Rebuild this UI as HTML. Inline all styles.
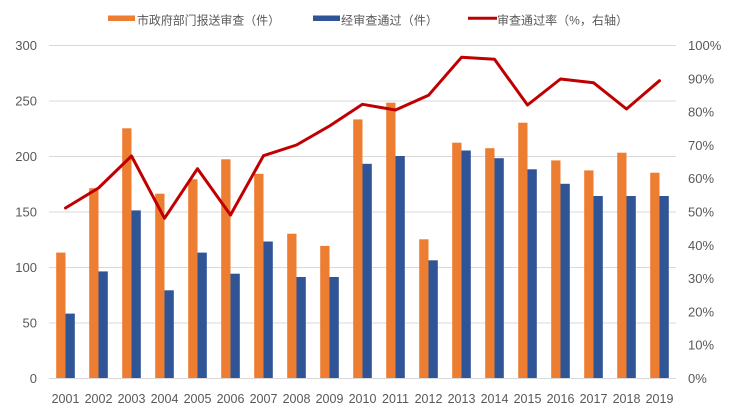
<!DOCTYPE html>
<html>
<head>
<meta charset="utf-8">
<style>
html,body{margin:0;padding:0;background:#fff;}
svg{display:block;}
text{font-family:"Liberation Sans","Noto Sans CJK SC",sans-serif;fill:#595959;}
</style>
</head>
<body>
<svg width="736" height="411" viewBox="0 0 736 411" xmlns="http://www.w3.org/2000/svg">
<rect x="0" y="0" width="736" height="411" fill="#fff"/>
<!-- gridlines -->
<g stroke="#d9d9d9" stroke-width="1">
<line x1="49" x2="676" y1="45.5" y2="45.5"/>
<line x1="49" x2="676" y1="101" y2="101"/>
<line x1="49" x2="676" y1="156.5" y2="156.5"/>
<line x1="49" x2="676" y1="212" y2="212"/>
<line x1="49" x2="676" y1="267.5" y2="267.5"/>
<line x1="49" x2="676" y1="323" y2="323"/>
<line x1="49" x2="676" y1="378.5" y2="378.5"/>
</g>
<!-- left axis -->
<g font-size="13" text-anchor="end">
<text x="37" y="50">300</text>
<text x="37" y="105.5">250</text>
<text x="37" y="161">200</text>
<text x="37" y="216.5">150</text>
<text x="37" y="272">100</text>
<text x="37" y="327.5">50</text>
<text x="37" y="383">0</text>
</g>
<!-- right axis -->
<g font-size="13" text-anchor="start">
<text x="688" y="50">100%</text>
<text x="688" y="83.3">90%</text>
<text x="688" y="116.6">80%</text>
<text x="688" y="149.9">70%</text>
<text x="688" y="183.2">60%</text>
<text x="688" y="216.5">50%</text>
<text x="688" y="249.8">40%</text>
<text x="688" y="283.1">30%</text>
<text x="688" y="316.4">20%</text>
<text x="688" y="349.7">10%</text>
<text x="688" y="383">0%</text>
</g>
<!-- orange bars -->
<g fill="#ed7d31">
<rect x="56.2" y="252.6" width="9.3" height="125.4"/>
<rect x="89.2" y="188.2" width="9.3" height="189.8"/>
<rect x="122.2" y="128.3" width="9.3" height="249.7"/>
<rect x="155.2" y="193.7" width="9.3" height="184.3"/>
<rect x="188.2" y="179.3" width="9.3" height="198.7"/>
<rect x="221.2" y="159.3" width="9.3" height="218.7"/>
<rect x="254.2" y="173.8" width="9.3" height="204.2"/>
<rect x="287.2" y="233.7" width="9.3" height="144.3"/>
<rect x="320.2" y="245.9" width="9.3" height="132.1"/>
<rect x="353.2" y="119.4" width="9.3" height="258.6"/>
<rect x="386.2" y="102.7" width="9.3" height="275.3"/>
<rect x="419.2" y="239.3" width="9.3" height="138.7"/>
<rect x="452.2" y="142.7" width="9.3" height="235.3"/>
<rect x="485.2" y="148.2" width="9.3" height="229.8"/>
<rect x="518.2" y="122.7" width="9.3" height="255.3"/>
<rect x="551.2" y="160.4" width="9.3" height="217.6"/>
<rect x="584.2" y="170.4" width="9.3" height="207.6"/>
<rect x="617.2" y="152.7" width="9.3" height="225.3"/>
<rect x="650.2" y="172.7" width="9.3" height="205.3"/>
</g>
<!-- blue bars -->
<g fill="#2f5597">
<rect x="65.5" y="313.6" width="9.3" height="64.4"/>
<rect x="98.5" y="271.4" width="9.3" height="106.6"/>
<rect x="131.5" y="210.4" width="9.3" height="167.6"/>
<rect x="164.5" y="290.3" width="9.3" height="87.7"/>
<rect x="197.5" y="252.6" width="9.3" height="125.4"/>
<rect x="230.5" y="273.7" width="9.3" height="104.3"/>
<rect x="263.5" y="241.5" width="9.3" height="136.5"/>
<rect x="296.5" y="277" width="9.3" height="101"/>
<rect x="329.5" y="277" width="9.3" height="101"/>
<rect x="362.5" y="163.8" width="9.3" height="214.2"/>
<rect x="395.5" y="156" width="9.3" height="222"/>
<rect x="428.5" y="260.3" width="9.3" height="117.7"/>
<rect x="461.5" y="150.5" width="9.3" height="227.5"/>
<rect x="494.5" y="158.2" width="9.3" height="219.8"/>
<rect x="527.5" y="169.3" width="9.3" height="208.7"/>
<rect x="560.5" y="183.8" width="9.3" height="194.2"/>
<rect x="593.5" y="196" width="9.3" height="182"/>
<rect x="626.5" y="196" width="9.3" height="182"/>
<rect x="659.5" y="196" width="9.3" height="182"/>
</g>
<!-- line -->
<polyline fill="none" stroke="#c00000" stroke-width="3" stroke-linejoin="round" stroke-linecap="round"
points="65.5,208 98.5,188 131.5,156 164.5,218.3 197.5,168.7 230.5,215 263.5,155.7 296.5,145 329.5,126 362.5,104.3 395.5,110 428.5,95.3 461.5,57.3 494.5,59.3 527.5,105 560.5,79 593.5,82.7 626.5,109 659.5,80.7"/>
<!-- x labels -->
<g font-size="12.5" text-anchor="middle">
<text x="65.5" y="403">2001</text>
<text x="98.5" y="403">2002</text>
<text x="131.5" y="403">2003</text>
<text x="164.5" y="403">2004</text>
<text x="197.5" y="403">2005</text>
<text x="230.5" y="403">2006</text>
<text x="263.5" y="403">2007</text>
<text x="296.5" y="403">2008</text>
<text x="329.5" y="403">2009</text>
<text x="362.5" y="403">2010</text>
<text x="395.5" y="403">2011</text>
<text x="428.5" y="403">2012</text>
<text x="461.5" y="403">2013</text>
<text x="494.5" y="403">2014</text>
<text x="527.5" y="403">2015</text>
<text x="560.5" y="403">2016</text>
<text x="593.5" y="403">2017</text>
<text x="626.5" y="403">2018</text>
<text x="659.5" y="403">2019</text>
</g>
<!-- legend -->
<rect x="108" y="15.5" width="27" height="5.5" fill="#ed7d31"/>
<text x="137" y="24.5" font-size="12" textLength="143" lengthAdjust="spacingAndGlyphs">市政府部门报送审查（件）</text>
<rect x="313" y="15.5" width="27" height="5.5" fill="#2f5597"/>
<text x="341" y="24.5" font-size="12" textLength="97" lengthAdjust="spacingAndGlyphs">经审查通过（件）</text>
<line x1="468" x2="497" y1="18.3" y2="18.3" stroke="#c00000" stroke-width="3"/>
<text x="497" y="24.5" font-size="12" textLength="131" lengthAdjust="spacingAndGlyphs">审查通过率（%，右轴）</text>
</svg>
</body>
</html>
